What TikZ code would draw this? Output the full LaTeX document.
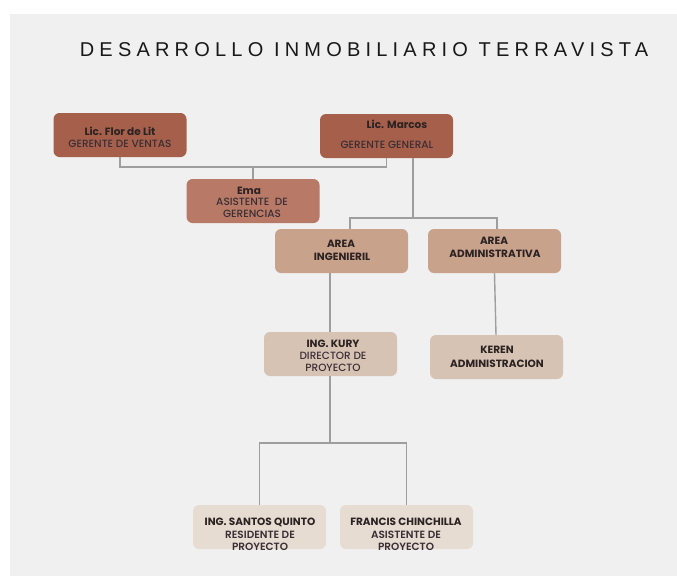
\documentclass[tikz,border=0pt]{standalone}
\usepackage{fontspec}
\setmainfont{Poppins}
\newfontfamily\popmed{Poppins Medium}
\newfontfamily\popsb{Poppins SemiBold}
\newfontfamily\titlefont[LetterSpace=26]{Liberation Sans}
\definecolor{bg}{HTML}{F0F0F0}
\definecolor{c1}{HTML}{A65F4A}
\definecolor{c2}{HTML}{B87A66}
\definecolor{c3}{HTML}{C9A28C}
\definecolor{c4}{HTML}{D7C3B4}
\definecolor{c5}{HTML}{E6DCD2}
\definecolor{ln}{HTML}{9E9E9E}
\definecolor{tx}{HTML}{2B2222}
\definecolor{tx2}{HTML}{3A2E35}
\begin{document}
\begin{tikzpicture}[x=1pt,y=-1pt,
  box/.style={rounded corners=6pt, minimum width=133pt, minimum height=44pt, inner sep=0pt, draw=none},
  conn/.style={draw=ln, line width=1.4pt},
  bt/.style={font=\fontsize{10.5}{11}\selectfont\bfseries, text=tx, inner sep=0pt},
  rt/.style={font=\popmed\fontsize{10.5}{11}\selectfont, text=tx2, inner sep=0pt},
  mt/.style={font=\popsb\fontsize{10.5}{11}\selectfont, text=tx2, inner sep=0pt}]
\useasboundingbox (0,0) rectangle (677,576);
\fill[white] (0,0) rectangle (677,576);
\fill[bg] (10,14) rectangle (677,576);
\node[font=\titlefont\fontsize{20}{22}\selectfont, text=black!90, inner sep=0pt] (title) at (364,49.5) {DESARROLLO INMOBILIARIO TERRAVISTA};
% boxes
\node[box, fill=c1] (flor) at (120,135) {};
\node[box, fill=c1] (marcos) at (386.5,136) {};
\node[box, fill=c2] (ema) at (253,201) {};
\node[box, fill=c3] (aing) at (341.5,251) {};
\node[box, fill=c3] (aadm) at (494.5,251) {};
\node[box, fill=c4] (kury) at (330.5,354) {};
\node[box, fill=c4] (keren) at (496.5,357) {};
\node[box, fill=c5] (santos) at (259.5,527) {};
\node[box, fill=c5] (francis) at (406.5,527) {};
% connectors
\coordinate (j1) at (253,167);
\coordinate (j2) at (413,218);
\coordinate (j3) at (330,443);
\draw[conn] (flor.south) |- (j1) -| (marcos.south);
\draw[conn] (j1) -- (ema.north);
\draw[conn] ([xshift=26.5pt]marcos.south) -- (j2);
\draw[conn] ([xshift=8.5pt]aing.north) |- (j2) -| ([xshift=2.5pt]aadm.north);
\draw[conn] ([xshift=-11.5pt]aing.south) -- ([xshift=-0.5pt]kury.north);
\draw[conn] (aadm.south) -- ([xshift=-0.5pt]keren.north);
\draw[conn] ([xshift=-0.5pt]kury.south) -- (j3);
\draw[conn] (santos.north) |- (j3) -| (francis.north);
% texts
\node[bt] (t1a) at (120,131) {Lic. Flor de Lit};
\node[rt] (t1b) at (120,144) {GERENTE DE VENTAS};
\node[bt] (t2a) at (397,124) {Lic. Marcos};
\node[rt] (t2b) at (387,145) {GERENTE GENERAL};
\node[bt] (t3a) at (249,191) {Ema};
\node[rt] (t3b) at (252,202) {ASISTENTE\ \ DE};
\node[rt] (t3c) at (252,214) {GERENCIAS};
\node[bt] (t4a) at (341,244) {AREA};
\node[bt] (t4b) at (342,257) {INGENIERIL};
\node[bt] (t5a) at (494,241) {AREA};
\node[bt] (t5b) at (495,254) {ADMINISTRATIVA};
\node[bt] (t6a) at (333,343.5) {ING. KURY};
\node[rt] (t6b) at (333,355.5) {DIRECTOR DE};
\node[rt] (t6c) at (333,367.5) {PROYECTO};
\node[bt] (t7a) at (497,350) {KEREN};
\node[bt] (t7b) at (497,364) {ADMINISTRACION};
\node[bt] (t8a) at (260,522) {ING. SANTOS QUINTO};
\node[mt] (t8b) at (260,535) {RESIDENTE DE};
\node[mt] (t8c) at (260,547) {PROYECTO};
\node[bt] (t9a) at (406,522) {FRANCIS CHINCHILLA};
\node[mt] (t9b) at (406,535) {ASISTENTE DE};
\node[mt] (t9c) at (406,547) {PROYECTO};
\end{tikzpicture}
\end{document}
